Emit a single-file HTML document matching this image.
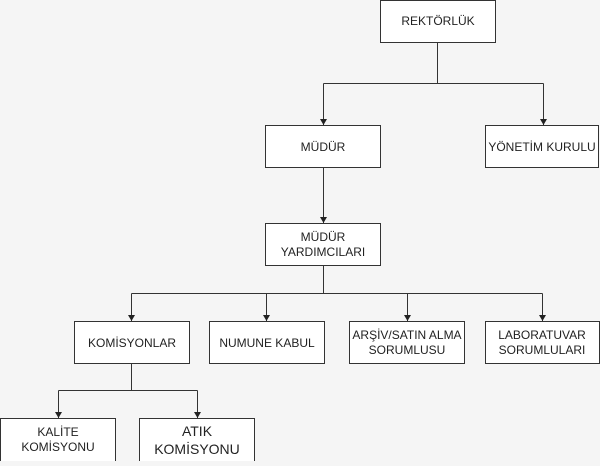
<!DOCTYPE html>
<html><head><meta charset="utf-8"><style>
body{margin:0;background:#f5f5f5;}
svg text{font-family:"Liberation Sans",sans-serif;font-size:12px;fill:#222;text-anchor:middle;}
</style></head><body>
<svg width="600" height="461" viewBox="0 0 600 461" xmlns="http://www.w3.org/2000/svg">
<defs><marker id="a" markerWidth="8" markerHeight="8" refX="6" refY="3.5" orient="auto" markerUnits="userSpaceOnUse"><path d="M0,0 L6,3.5 L0,7 Z" fill="#222"/></marker></defs>
<g stroke="#333" stroke-width="1" fill="none">
<path d="M437.5 42V83.5M323.5 83.5H543.5"/>
<path d="M323.5 83.5V125" marker-end="url(#a)"/>
<path d="M543.5 83.5V125" marker-end="url(#a)"/>
<path d="M323.5 167V223" marker-end="url(#a)"/>
<path d="M323.5 265V293.5M131.5 293.5H542.5"/>
<path d="M131.5 293.5V321" marker-end="url(#a)"/>
<path d="M266.5 293.5V321" marker-end="url(#a)"/>
<path d="M407.5 293.5V321" marker-end="url(#a)"/>
<path d="M542.5 293.5V321" marker-end="url(#a)"/>
<path d="M131.5 363V390.5M58.5 390.5H197.5"/>
<path d="M58.5 390.5V418" marker-end="url(#a)"/>
<path d="M197.5 390.5V418" marker-end="url(#a)"/>
</g>
<g stroke="#333" stroke-width="1" fill="#fff">
<rect x="380.5" y="0.5" width="115" height="42"/>
<rect x="265.5" y="125.5" width="115" height="42"/>
<rect x="485.5" y="125.5" width="113" height="42"/>
<rect x="265.5" y="223.5" width="115" height="42"/>
<rect x="74.5" y="321.5" width="115" height="42"/>
<rect x="209.5" y="321.5" width="115" height="42"/>
<rect x="349.5" y="321.5" width="115" height="42"/>
<rect x="485.5" y="321.5" width="114" height="42"/>
<rect x="0.5" y="418.5" width="115" height="43"/>
<rect x="139.5" y="418.5" width="115" height="43"/>
</g>
<text x="438" y="25">REKTÖRLÜK</text>
<text x="323" y="151">MÜDÜR</text>
<text x="542" y="151">YÖNETİM KURULU</text>
<text x="323" y="241">MÜDÜR</text>
<text x="323" y="256">YARDIMCILARI</text>
<text x="132" y="347">KOMİSYONLAR</text>
<text x="267" y="347">NUMUNE KABUL</text>
<text x="407" y="339">ARŞİV/SATIN ALMA</text>
<text x="407" y="354">SORUMLUSU</text>
<text x="542" y="339">LABORATUVAR</text>
<text x="542" y="354">SORUMLULARI</text>
<text x="58" y="436">KALİTE</text>
<text x="58" y="451">KOMİSYONU</text>
<text x="197" y="436" style="font-size:14px">ATIK</text>
<text x="197" y="454" style="font-size:14px">KOMİSYONU</text>
</svg>
</body></html>
